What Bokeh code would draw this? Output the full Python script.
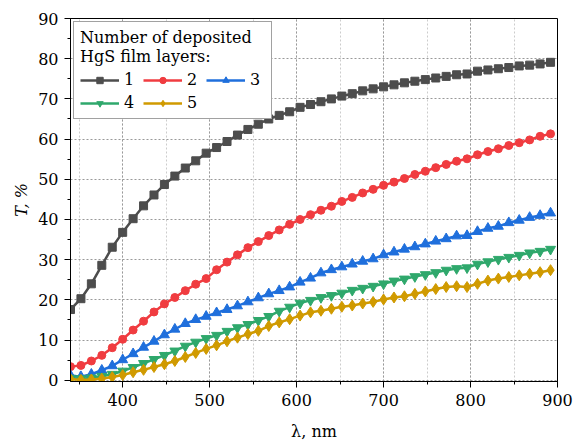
from bokeh.plotting import figure
from bokeh.models import Legend, LegendItem, SingleIntervalTicker
from bokeh.embed import file_html
from bokeh.resources import INLINE

wavelength = [340, 352, 364, 376, 388, 400, 412, 424, 436, 448, 460, 472, 484, 496,
              508, 520, 532, 544, 556, 568, 580, 592, 604, 616, 628, 640, 652, 664,
              676, 688, 700, 712, 724, 736, 748, 760, 772, 784, 796, 808, 820, 832,
              844, 856, 868, 880, 892]

layers_1 = [17.6, 20.3, 24.0, 28.6, 33.1, 36.8, 40.2, 43.4, 46.1, 48.7, 50.8, 52.8,
            54.6, 56.5, 57.9, 59.4, 61.0, 62.4, 63.7, 65.0, 65.9, 66.8, 67.9, 68.6,
            69.3, 70.0, 70.7, 71.3, 72.0, 72.5, 73.0, 73.5, 74.0, 74.4, 74.8, 75.2,
            75.6, 76.0, 76.2, 76.9, 77.2, 77.5, 77.8, 78.2, 78.4, 78.7, 79.1]
layers_2 = [3.4, 3.7, 4.8, 6.2, 8.1, 10.2, 12.5, 14.7, 17.0, 19.0, 20.6, 22.3,
            23.9, 25.3, 27.5, 29.4, 31.2, 33.0, 34.5, 36.0, 37.4, 38.8, 40.0, 41.2,
            42.3, 43.3, 44.5, 45.5, 46.6, 47.5, 48.5, 49.3, 50.2, 51.2, 52.0, 52.9,
            53.7, 54.5, 55.1, 56.1, 56.9, 57.6, 58.4, 59.1, 59.8, 60.7, 61.3]
layers_3 = [1.2, 0.9, 1.5, 2.5, 3.6, 5.1, 6.6, 8.2, 9.7, 11.3, 12.7, 14.1,
            15.1, 15.9, 16.8, 17.6, 18.5, 19.5, 20.5, 21.5, 22.3, 23.2, 24.4, 25.4,
            26.7, 27.5, 28.2, 28.9, 29.6, 30.2, 31.2, 31.9, 32.6, 33.2, 33.9, 34.6,
            35.2, 35.9, 36.0, 37.0, 37.8, 38.3, 39.2, 39.8, 40.5, 41.0, 41.6]
layers_4 = [0.5, 0.4, 0.6, 1.0, 1.5, 2.3, 3.2, 4.2, 5.2, 6.2, 7.3, 8.5,
            9.5, 10.4, 11.2, 12.2, 13.1, 13.9, 14.9, 15.9, 17.2, 18.2, 19.2, 19.9,
            20.6, 21.1, 21.7, 22.4, 22.9, 23.4, 24.0, 24.7, 25.2, 25.8, 26.3, 26.8,
            27.4, 27.8, 28.0, 28.9, 29.5, 30.1, 30.6, 31.1, 31.7, 32.1, 32.6]
layers_5 = [0.3, 0.1, 0.2, 0.4, 0.8, 1.3, 2.0, 2.6, 3.3, 4.0, 4.8, 5.8,
            6.8, 7.8, 8.7, 9.7, 10.6, 11.5, 12.3, 13.5, 14.4, 15.2, 16.1, 16.9,
            17.3, 17.8, 18.3, 18.6, 19.1, 19.5, 20.1, 20.6, 20.9, 21.5, 22.1, 22.7,
            23.2, 23.4, 23.2, 24.0, 24.8, 25.3, 25.7, 26.1, 26.5, 26.9, 27.4]

series_labels = ["1", "2", "3", "4", "5"]
series_values = [layers_1, layers_2, layers_3, layers_4, layers_5]
colors = ["#4d4d4d", "#f03c40", "#1f6fdc", "#2fa86c", "#d09a00"]
markers = ["square", "circle", "triangle", "inverted_triangle", "diamond"]
marker_sizes = [8, 8, 10, 10, 11]

FONT = "DejaVu Serif"

p = figure(width=574, height=443, x_range=(340, 900), y_range=(-0.3, 90),
           output_backend="svg", toolbar_location=None,
           min_border_left=70, min_border_right=17, min_border_top=18, min_border_bottom=62)
p.background_fill_color = "white"
p.border_fill_color = "white"
p.outline_line_color = "black"
p.outline_line_width = 1

p.xaxis.ticker = SingleIntervalTicker(interval=100, num_minor_ticks=2)
p.yaxis.ticker = SingleIntervalTicker(interval=10, num_minor_ticks=2)
for ax in (p.xaxis, p.yaxis):
    ax.axis_line_color = "black"
    ax.axis_line_width = 1
    ax.major_tick_line_color = "black"
    ax.minor_tick_line_color = "black"
    ax.major_tick_out = 6
    ax.major_tick_in = 0
    ax.minor_tick_out = 3
    ax.minor_tick_in = 0
    ax.major_label_text_font = FONT
    ax.major_label_text_font_size = "16px"
    ax.major_label_text_color = "black"
    ax.major_label_standoff = 6
    ax.axis_label_text_font = FONT
    ax.axis_label_text_font_size = "16px"
    ax.axis_label_text_color = "black"

p.xaxis.axis_label = "λ, nm"
p.xaxis.axis_label_text_font_style = "normal"
p.xaxis.axis_label_standoff = 13
p.yaxis.axis_label = "T, %"
p.yaxis.axis_label_text_font_style = "italic"
p.yaxis.axis_label_standoff = 4

p.xgrid.grid_line_color = "#999999"
p.xgrid.grid_line_dash = "2 2"
p.xgrid.minor_grid_line_color = "#cccccc"
p.xgrid.minor_grid_line_dash = "2 2"
p.ygrid.grid_line_color = "#999999"
p.ygrid.grid_line_dash = "2 2"

items = []
for lab, vals, col, mk, ms in zip(series_labels, series_values, colors, markers, marker_sizes):
    r_line = p.line(wavelength, vals, line_color=col, line_width=2.5)
    r_pts = p.scatter(wavelength, vals, marker=mk, size=ms, fill_color=col, line_color=col)
    items.append(LegendItem(label=lab, renderers=[r_line, r_pts]))

legend = Legend(items=items, location="top_left", orientation="horizontal", ncols=3,
                title="Number of deposited\nHgS film layers:")
legend.title_text_font = FONT
legend.title_text_font_size = "16px"
legend.title_text_font_style = "normal"
legend.title_text_color = "black"
legend.title_standoff = 4
legend.label_text_font = FONT
legend.label_text_font_size = "16px"
legend.label_text_color = "black"
legend.glyph_width = 39
legend.glyph_height = 16
legend.label_standoff = 5
legend.label_width = 15
legend.spacing = 4
legend.padding = 6
legend.margin = 3
legend.border_line_color = "#444444"
legend.border_line_width = 1
legend.background_fill_color = "white"
legend.background_fill_alpha = 1
p.add_layout(legend)

open("out.html", "w").write(file_html(p, INLINE))
